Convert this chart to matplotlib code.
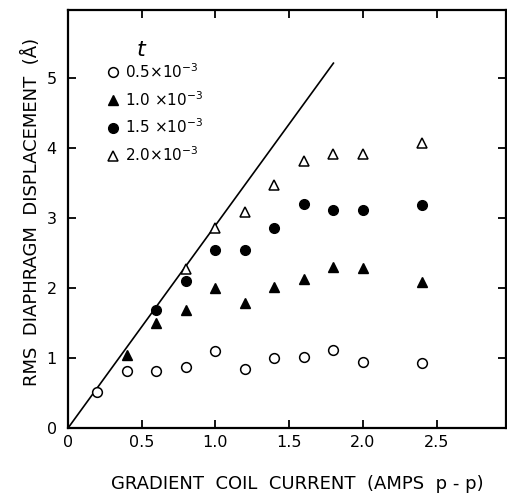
import matplotlib
matplotlib.use('Agg')
import matplotlib.pyplot as plt

# gradient coil current (amps p-p)
x05 = [0.2, 0.4, 0.6, 0.8, 1.0, 1.2, 1.4, 1.6, 1.8, 2.0, 2.4]
y05 = [0.52, 0.82, 0.82, 0.88, 1.10, 0.84, 1.00, 1.01, 1.11, 0.95, 0.93]

x10 = [0.4, 0.6, 0.8, 1.0, 1.2, 1.4, 1.6, 1.8, 2.0, 2.4]
y10 = [1.04, 1.50, 1.68, 2.00, 1.79, 2.02, 2.13, 2.30, 2.28, 2.08]

x15 = [0.6, 0.8, 1.0, 1.2, 1.4, 1.6, 1.8, 2.0, 2.4]
y15 = [1.69, 2.10, 2.54, 2.54, 2.86, 3.20, 3.11, 3.11, 3.19]

x20 = [0.8, 1.0, 1.2, 1.4, 1.6, 1.8, 2.0, 2.4]
y20 = [2.27, 2.85, 3.09, 3.47, 3.81, 3.91, 3.92, 4.07]

line_x = [0.0, 1.80]
line_y = [0.0, 5.21]

xticks = [0, 0.5, 1.0, 1.5, 2.0, 2.5]
xticklabels = ['0', '0.5', '1.0', '1.5', '2.0', '2.5']
yticks = [0, 1, 2, 3, 4, 5]
yticklabels = ['0', '1', '2', '3', '4', '5']

plt.rcParams['font.family'] = ['DejaVu Sans']

fig = plt.figure(figsize=(5.07, 4.95), dpi=100)
ax = fig.add_axes([0.134, 0.135, 0.864, 0.845])

ax.plot(line_x, line_y, color='black', lw=1.2)
ms = 7
ax.plot(x05, y05, 'o', mfc='white', mec='black', mew=1.1, ms=ms, label=r'0.5$\times$10$^{-3}$')
ax.plot(x10, y10, '^', mfc='black', mec='black', ms=ms, label=r'1.0 $\times$10$^{-3}$')
ax.plot(x15, y15, 'o', mfc='black', mec='black', ms=ms, label=r'1.5 $\times$10$^{-3}$')
ax.plot(x20, y20, '^', mfc='white', mec='black', mew=1.1, ms=ms, label=r'2.0$\times$10$^{-3}$')

ax.set_xlim(0, 2.97)
ax.set_ylim(0, 5.97)
ax.set_xticks(xticks)
ax.set_xticklabels(xticklabels)
ax.set_yticks(yticks)
ax.set_yticklabels(yticklabels)
ax.tick_params(direction='in', length=6, width=1.3, top=True, right=True,
               labelsize=11.5)
ax.tick_params(axis='x', pad=5)
ax.tick_params(axis='y', pad=8)
for s in ax.spines.values():
    s.set_linewidth(1.6)

leg = ax.legend(loc='upper left', bbox_to_anchor=(0.078, 0.89), frameon=False,
                fontsize=11, handlelength=0.6, handletextpad=0.5,
                labelspacing=0.6, borderaxespad=0)
ax.text(0.169, 0.904, r'$t$', transform=ax.transAxes, fontsize=16,
        ha='center', va='center')

fig.text(297 / 507, 1 - 484 / 495, 'GRADIENT  COIL  CURRENT  (AMPS  p - p)',
         fontsize=13, ha='center', va='center')
fig.text(31 / 507, 1 - 212 / 495, 'RMS  DIAPHRAGM  DISPLACEMENT  (Å)',
         fontsize=13, ha='center', va='center', rotation=90)

fig.savefig('out.png', dpi=100)
